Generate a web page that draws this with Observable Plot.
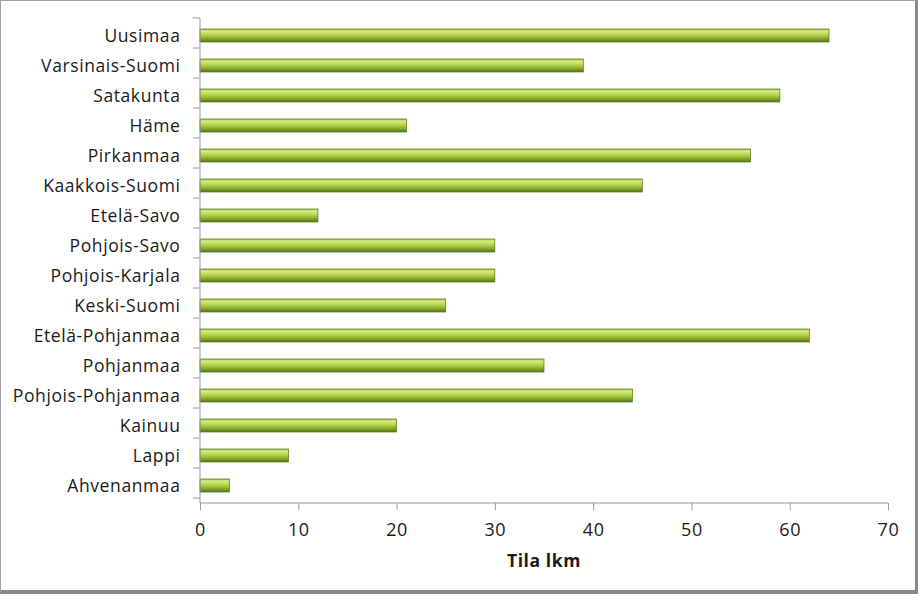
<!DOCTYPE html>
<html>
<head>
<meta charset="utf-8">
<script src="https://cdn.jsdelivr.net/npm/d3@7"></script>
<script src="https://cdn.jsdelivr.net/npm/@observablehq/plot@0.6"></script>
<style>
  html, body { margin: 0; padding: 0; background: #fff; }
  #wrap { position: relative; width: 918px; height: 594px; }
  #frame { position: absolute; left: 0; top: 0; width: 918px; height: 594px; box-sizing: border-box;
           border-left: 1px solid #a0a0a0; border-top: 1px solid #a0a0a0;
           border-right: 3px solid #8a8a8a; border-bottom: 4px solid #8a8a8a; pointer-events: none; }
  svg { font-family: "Open Sans", sans-serif; }
</style>
</head>
<body>
<div id="wrap"><div id="frame"></div></div>
<script>
const regions = ["Uusimaa","Varsinais-Suomi","Satakunta","Häme","Pirkanmaa","Kaakkois-Suomi","Etelä-Savo","Pohjois-Savo","Pohjois-Karjala","Keski-Suomi","Etelä-Pohjanmaa","Pohjanmaa","Pohjois-Pohjanmaa","Kainuu","Lappi","Ahvenanmaa"];
const counts = [64,39,59,21,56,45,12,30,30,25,62,35,44,20,9,3];
const xTicks = [0,10,20,30,40,50,60,70];
const xLabel = "Tila lkm";

const data = regions.map((r, i) => ({region: r, value: counts[i]}));

const chart = Plot.plot({
  width: 918,
  height: 594,
  marginLeft: 200,
  marginRight: 30,
  marginTop: 18,
  marginBottom: 91,
  style: {fontFamily: "Open Sans, sans-serif", fontSize: "17.5px", color: "#1a1a1a", background: "transparent"},
  x: {domain: [0, 70], ticks: xTicks, label: null},
  y: {domain: regions, paddingInner: 0.55, paddingOuter: 0.275, label: null},
  marks: [
    Plot.barX(data, {y: "region", x: "value", fill: "url(#barGrad)", stroke: "#55721a", strokeWidth: 0.7}),
    Plot.axisX({ticks: xTicks, tickSize: 7, tickPadding: 13, stroke: "#9a9a9a", label: null, fontSize: 18}),
    Plot.axisY({tickSize: 0, tickPadding: 20, label: null})
  ]
});

const svg = d3.select(chart);
const defs = svg.insert("defs", ":first-child");
const g = defs.append("linearGradient").attr("id", "barGrad").attr("x1", 0).attr("y1", 0).attr("x2", 0).attr("y2", 1);
[["0%","#94bb34"],["15%","#d4ec86"],["38%","#bedd58"],["68%","#8fb52e"],["100%","#56751a"]]
  .forEach(([o, c]) => g.append("stop").attr("offset", o).attr("stop-color", c));

const xs = chart.scale("x"), ys = chart.scale("y");
const x0 = xs.apply(0), x1 = xs.apply(70);
const yTop = ys.range[0], yBot = ys.range[1];
const lines = svg.append("g").attr("stroke", "#9a9a9a").attr("stroke-width", 1);
lines.append("line").attr("x1", x0).attr("x2", x0).attr("y1", yTop).attr("y2", yBot);
lines.append("line").attr("x1", x0).attr("x2", x1).attr("y1", yBot).attr("y2", yBot);
for (let k = 0; k <= regions.length; k++) {
  const yy = yTop + k * ys.step;
  lines.append("line").attr("x1", x0 - 7).attr("x2", x0).attr("y1", yy).attr("y2", yy);
}
svg.append("text").attr("x", (x0 + x1) / 2).attr("y", 562).attr("text-anchor", "middle")
  .attr("dominant-baseline", "middle").attr("font-weight", "bold").attr("font-size", 17.5)
  .attr("fill", "#1a1a1a").text(xLabel);

svg.selectAll("text").attr("letter-spacing", "0.6px");
document.getElementById("wrap").prepend(chart);
</script>
</body>
</html>
